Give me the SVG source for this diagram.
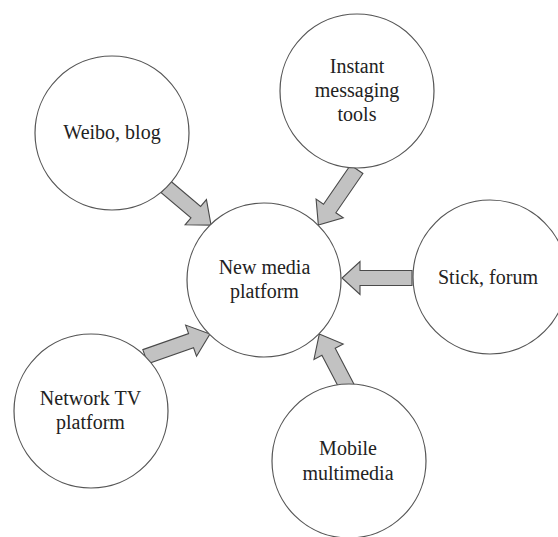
<svg xmlns="http://www.w3.org/2000/svg" width="558" height="537" viewBox="0 0 558 537">
<style>
circle.n{fill:#fff;stroke:#555;stroke-width:1.2}
text{font-family:'Liberation Serif','DejaVu Serif',serif;font-size:20px;fill:#222;text-anchor:middle}
.arrow{fill:#c2c2c2;stroke:#4a4a4a;stroke-width:1.1;stroke-linejoin:miter}
</style>
<rect width="558" height="537" fill="#fff"/>
<g id="connectors">
<polygon class="arrow" transform="translate(166,187) rotate(40.2)" points="0,-7.5 39,-7.5 39,-16.5 59,0 39,16.5 39,7.5 0,7.5"/>
<polygon class="arrow" transform="translate(356.7,169.2) rotate(124.5)" points="0,-7.5 47.7,-7.5 47.7,-16.5 67.7,0 47.7,16.5 47.7,7.5 0,7.5"/>
<polygon class="arrow" transform="translate(412,278) rotate(180)" points="0,-7.5 52,-7.5 52,-16.5 70,0 52,16.5 52,7.5 0,7.5"/>
<polygon class="arrow" transform="translate(145.3,356.7) rotate(-19.3)" points="0,-7.5 48.5,-7.5 48.5,-16.5 68.5,0 48.5,16.5 48.5,7.5 0,7.5"/>
<polygon class="arrow" transform="translate(348.3,389.5) rotate(-117.6)" points="0,-7.5 42.6,-7.5 42.6,-16.5 62.6,0 42.6,16.5 42.6,7.5 0,7.5"/>
</g>
<g id="center" font-family="Liberation Serif, serif">
<circle class="n" cx="264" cy="280" r="77"/>
<text x="264.5" y="274">New media</text>
<text x="264.5" y="298">platform</text>
</g>
<g id="weibo" font-family="Liberation Serif, serif">
<circle class="n" cx="112" cy="133" r="77"/>
<text x="112" y="139">Weibo, blog</text>
</g>
<g id="instant" font-family="Liberation Serif, serif">
<circle class="n" cx="357" cy="91" r="77"/>
<text x="357" y="73">Instant</text>
<text x="357" y="97">messaging</text>
<text x="357" y="121">tools</text>
</g>
<g id="stick" font-family="Liberation Serif, serif">
<circle class="n" cx="490" cy="277" r="77"/>
<text x="488" y="284">Stick, forum</text>
</g>
<g id="networktv" font-family="Liberation Serif, serif">
<circle class="n" cx="91" cy="411" r="77"/>
<text x="90.5" y="405">Network TV</text>
<text x="90.5" y="429">platform</text>
</g>
<g id="mobile" font-family="Liberation Serif, serif">
<circle class="n" cx="349" cy="461" r="77"/>
<text x="348" y="455">Mobile</text>
<text x="348" y="480">multimedia</text>
</g>
</svg>
